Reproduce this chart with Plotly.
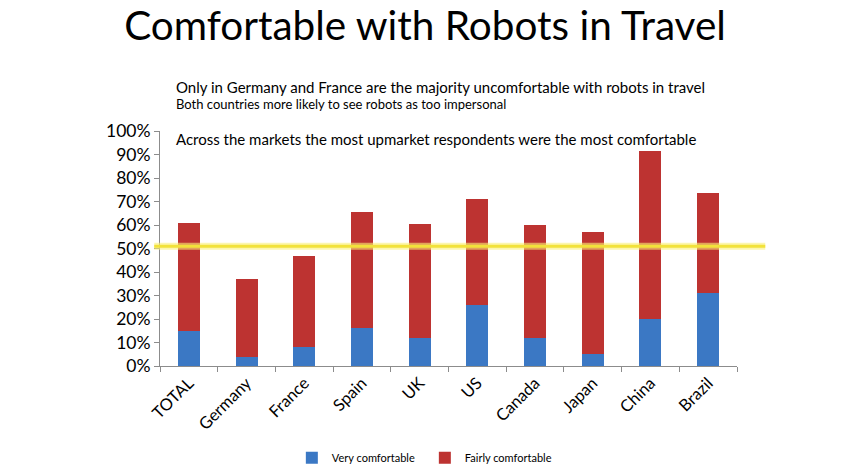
import plotly.graph_objects as go

categories = ["TOTAL", "Germany", "France", "Spain", "UK", "US", "Canada", "Japan", "China", "Brazil"]
very_comfortable = [15, 4, 8, 16, 12, 26, 12, 5, 20, 31]
fairly_comfortable = [46, 33, 39, 49.5, 48.5, 45, 48, 52, 71.5, 42.5]
threshold = 51
y_ticks = [0, 10, 20, 30, 40, 50, 60, 70, 80, 90, 100]
y_tick_text = [f"{v}%" for v in y_ticks]

FONT = "Lato, Open Sans, sans-serif"

fig = go.Figure()
fig.add_trace(go.Bar(x=categories, y=very_comfortable, name="Very comfortable",
                     marker=dict(color="#3b78c4", line=dict(width=0))))
fig.add_trace(go.Bar(x=categories, y=fairly_comfortable, name="Fairly comfortable",
                     marker=dict(color="#bd3331", line=dict(width=0))))

# yellow reference line with glow
fig.add_shape(type="line", xref="paper", yref="y", x0=-0.01, x1=1.049, y0=threshold, y1=threshold,
              line=dict(color="rgba(250,240,120,0.6)", width=7), layer="above")
fig.add_shape(type="line", xref="paper", yref="y", x0=-0.01, x1=1.049, y0=threshold, y1=threshold,
              line=dict(color="#f2e23a", width=3), layer="above")

fig.update_layout(
    width=850, height=470,
    barmode="stack", bargap=0.62,
    paper_bgcolor="white", plot_bgcolor="white",
    margin=dict(l=160, r=113, t=131, b=104, autoexpand=False),
    font=dict(family=FONT, color="#000000"),
    title=dict(text="Comfortable with Robots in Travel", x=0.5, xanchor="center",
               y=0.944, yanchor="middle", font=dict(size=40.5, family=FONT, color="#000")),
    showlegend=True,
    legend=dict(orientation="h", x=0.459, xanchor="center", y=-0.39, yanchor="middle",
                font=dict(size=11, family=FONT), itemwidth=30, traceorder="normal",
                entrywidth=88, entrywidthmode="pixels"),
    xaxis=dict(type="category", showline=True, linecolor="#8c8c8c", linewidth=1,
               ticks="outside", tickson="boundaries", ticklen=5, tickcolor="#8c8c8c",
               tickangle=-45, tickfont=dict(size=16.5, family=FONT), showgrid=False,
               automargin=False),
    yaxis=dict(range=[0, 100], tickmode="array", tickvals=y_ticks, ticktext=y_tick_text,
               showline=True, linecolor="#8c8c8c", linewidth=1, ticks="outside", ticklen=5,
               tickcolor="#8c8c8c", tickfont=dict(size=17.5, family=FONT),
               showgrid=False, zeroline=False, automargin=False),
)

fig.add_annotation(text="Only in Germany and France are the majority uncomfortable with robots in travel",
                   xref="paper", yref="paper", x=0.024, y=1.187, xanchor="left", yanchor="middle",
                   showarrow=False, font=dict(size=15, family=FONT))
fig.add_annotation(text="Both countries more likely to see robots as too impersonal",
                   xref="paper", yref="paper", x=0.024, y=1.115, xanchor="left", yanchor="middle",
                   showarrow=False, font=dict(size=13, family=FONT))
fig.add_annotation(text="Across the markets the most upmarket respondents were the most comfortable",
                   xref="paper", yref="paper", x=0.024, y=0.965, xanchor="left", yanchor="middle",
                   showarrow=False, font=dict(size=15, family=FONT))

fig.write_html("out.html", config={"displayModeBar": False},
               post_script="document.body.style.margin='0';")
